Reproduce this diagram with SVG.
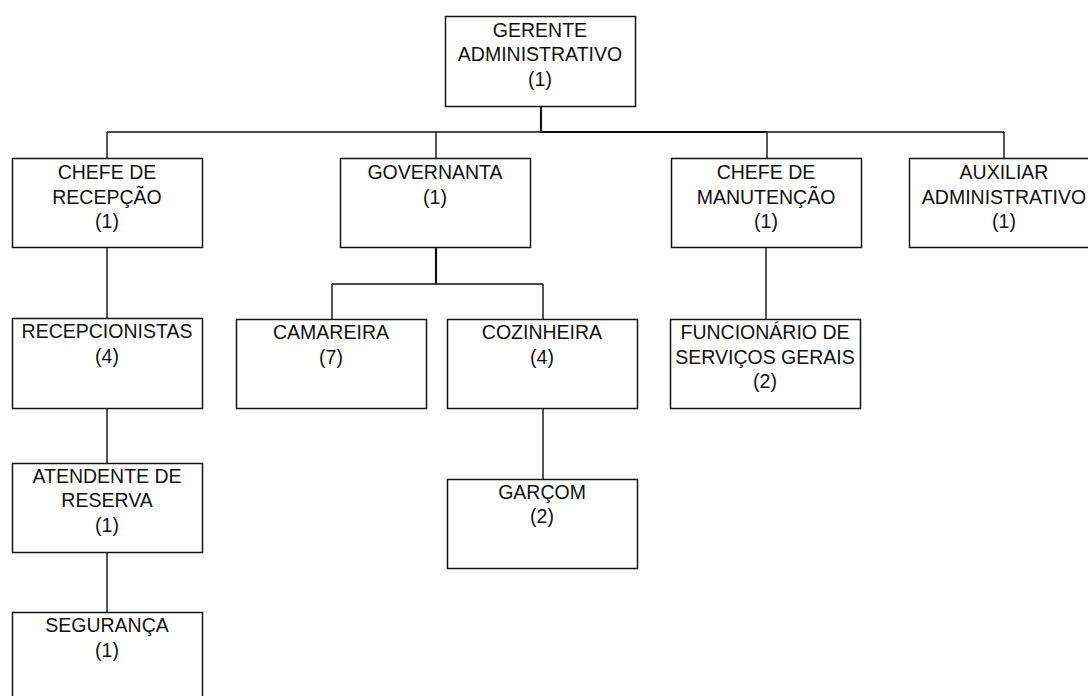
<svg xmlns="http://www.w3.org/2000/svg" width="1088" height="696" viewBox="0 0 1088 696">
<style>
rect.box{fill:#fff;stroke:#111;stroke-width:1.5}
.c{fill:none;stroke:#111;stroke-width:1.4}
.t{stroke-width:2.2}
text{font-family:"Liberation Sans",Arial,sans-serif;font-size:19.5px;fill:#111;text-anchor:middle}
</style>
<rect width="1088" height="696" fill="#fff"/>
<g id="connectors">
<path class="c" d="M107,132H541M767,132H1004M107,132V158M436,132V158M767,132V158M1004,132V158"/>
<path class="c t" d="M541,106V132H767"/>
<path class="c" d="M107,248V318M107,408V463M107,552V612"/>
<path class="c t" d="M436,248V284"/>
<path class="c" d="M332,284H543M332,284V319M543,284V319M543,409V479M766,248V319"/>
</g>
<g id="n_gerente"><rect class="box" x="445.5" y="16.5" width="190" height="90"/><text x="540" y="36.5">GERENTE</text><text x="540" y="61">ADMINISTRATIVO</text><text x="540" y="85.5">(1)</text></g>
<g id="n_recepcao"><rect class="box" x="12.5" y="158.5" width="190" height="89"/><text x="107" y="179">CHEFE DE</text><text x="107" y="203.5">RECEPÇÃO</text><text x="107" y="228">(1)</text></g>
<g id="n_governanta"><rect class="box" x="340.5" y="158.5" width="190" height="89"/><text x="435" y="179">GOVERNANTA</text><text x="435" y="203.5">(1)</text></g>
<g id="n_manutencao"><rect class="box" x="671.5" y="158.5" width="190" height="89"/><text x="766" y="179">CHEFE DE</text><text x="766" y="203.5">MANUTENÇÃO</text><text x="766" y="228">(1)</text></g>
<g id="n_auxiliar"><rect class="box" x="909.5" y="158.5" width="190" height="89"/><text x="1004" y="179">AUXILIAR</text><text x="1004" y="203.5">ADMINISTRATIVO</text><text x="1004" y="228">(1)</text></g>
<g id="n_recepcionistas"><rect class="box" x="12.5" y="318.5" width="190" height="90"/><text x="107" y="338">RECEPCIONISTAS</text><text x="107" y="362.5">(4)</text></g>
<g id="n_camareira"><rect class="box" x="236.5" y="319.5" width="190" height="89"/><text x="331" y="339">CAMAREIRA</text><text x="331" y="363.5">(7)</text></g>
<g id="n_cozinheira"><rect class="box" x="447.5" y="319.5" width="190" height="89"/><text x="542" y="339">COZINHEIRA</text><text x="542" y="363.5">(4)</text></g>
<g id="n_funcionario"><rect class="box" x="670.5" y="319.5" width="190" height="89"/><text x="765" y="339">FUNCIONÁRIO DE</text><text x="765" y="363.5">SERVIÇOS GERAIS</text><text x="765" y="388">(2)</text></g>
<g id="n_atendente"><rect class="box" x="12.5" y="463.5" width="190" height="89"/><text x="107" y="482.5">ATENDENTE DE</text><text x="107" y="507">RESERVA</text><text x="107" y="531.5">(1)</text></g>
<g id="n_garcom"><rect class="box" x="447.5" y="479.5" width="190" height="89"/><text x="542" y="498.5">GARÇOM</text><text x="542" y="523">(2)</text></g>
<g id="n_seguranca"><rect class="box" x="12.5" y="612.5" width="190" height="90"/><text x="107" y="632">SEGURANÇA</text><text x="107" y="656.5">(1)</text></g>
</svg>
